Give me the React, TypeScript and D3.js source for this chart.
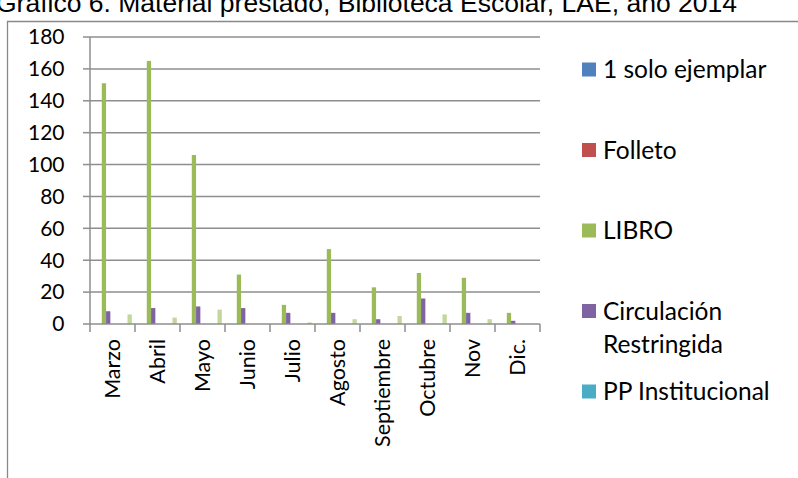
import React from "react";
import * as d3 from "d3";

const title = "Gráfico 6. Material prestado, Biblioteca Escolar, LAE, año 2014";
const months = ["Marzo", "Abril", "Mayo", "Junio", "Julio", "Agosto", "Septiembre", "Octubre", "Nov", "Dic."];
const seriesNames = ["1 solo ejemplar", "Folleto", "LIBRO", "Circulación Restringida", "PP Institucional", "s6", "s7", "s8", "s9"];
const seriesColors = ["#4F81BD", "#C0504D", "#9BBB59", "#8064A2", "#4BACC6", "#F79646", "#2C4D75", "#772C2A", "#C3D69B"];
const soloEjemplar = [0, 0, 0, 0, 0, 0, 0, 0, 0, 0];
const folleto = [0, 0, 0, 0, 0, 0, 0, 0, 0, 0];
const libro = [151, 165, 106, 31, 12, 47, 23, 32, 29, 7];
const circulacion = [8, 10, 11, 10, 7, 7, 3, 16, 7, 2];
const ppInstitucional = [0, 0, 0, 0, 0, 0, 0, 0, 0, 0];
const s6 = [0, 0, 0, 0, 0, 0, 0, 0, 0, 0];
const s7 = [0, 0, 0, 0, 0, 0, 0, 0, 0, 0];
const s8 = [0, 0, 0, 0, 0, 0, 0, 0, 0, 0];
const s9 = [6, 4, 9, 0, 1, 3, 5, 6, 3, 0];
const seriesData = [soloEjemplar, folleto, libro, circulacion, ppInstitucional, s6, s7, s8, s9];
const legendShown = [0, 1, 2, 3, 4];
const legendLines: Record<number, string[]> = { 3: ["Circulación", "Restringida"] };
const yTicks = [0, 20, 40, 60, 80, 100, 120, 140, 160, 180];

const W = 798, H = 478;
const L = 90, R = 540, T = 37, B = 324;
const FONT = "Lato, 'Open Sans', sans-serif";
const GRID = "#8E8E8E";

export default function App() {
  const x = d3.scaleBand<string>().domain(months).range([L, R]).padding(0);
  const bw = x.bandwidth();
  const n = seriesData.length;
  const barW = bw / (n + 1.5);
  const xs = d3.scaleBand<number>().domain(d3.range(n)).range([0.75 * barW, bw - 0.75 * barW]).padding(0);
  const y = d3.scaleLinear().domain([0, 180]).range([B, T]);

  return (
    <svg width={W} height={H} style={{ position: "absolute", left: 0, top: 0, background: "#fff" }}>
      <rect x={0} y={0} width={W} height={H} fill="#fff" />
      <text x={-4} y={11.5} fontFamily="'Liberation Sans', Arial, sans-serif" fontSize={26.5} fill="#000">{title}</text>
      {/* chart border */}
      <path d={`M7.5,${H + 2} V21.5 H${W + 2}`} fill="none" stroke="#898989" strokeWidth={1.3} />
      {/* gridlines */}
      {yTicks.filter((t) => t > 0).map((t) => (
        <line key={t} x1={L} x2={R} y1={y(t)} y2={y(t)} stroke={GRID} strokeWidth={1.5} />
      ))}
      {/* bars */}
      {seriesData.map((vals, si) =>
        vals.map((v, mi) =>
          v > 0 ? (
            <rect key={`${si}-${mi}`} x={(x(months[mi]) as number) + (xs(si) as number)} y={y(v)} width={xs.bandwidth()} height={B - y(v)} fill={seriesColors[si]} />
          ) : null
        )
      )}
      {/* axes */}
      <line x1={L} x2={L} y1={T} y2={B} stroke={GRID} strokeWidth={1.5} />
      <line x1={L} x2={R} y1={B} y2={B} stroke={GRID} strokeWidth={1.5} />
      {yTicks.map((t) => (
        <g key={t}>
          <line x1={L - 7} x2={L} y1={y(t)} y2={y(t)} stroke={GRID} strokeWidth={1.5} />
          <text x={64.5} y={y(t)} dy="0.35em" textAnchor="end" fontFamily={FONT} fontSize={21} fill="#000">{t}</text>
        </g>
      ))}
      {[...months.map((m) => x(m) as number), R].map((xx, i) => (
        <line key={i} x1={xx} x2={xx} y1={B} y2={B + 8} stroke={GRID} strokeWidth={1.5} />
      ))}
      {months.map((m) => {
        const cx = (x(m) as number) + bw / 2;
        return (
          <text key={m} transform={`translate(${cx},${B + 15}) rotate(-90)`} textAnchor="end" dy="0.35em" fontFamily={FONT} fontSize={21.5} fill="#000">{m}</text>
        );
      })}
      {/* legend */}
      {legendShown.map((si, i) => {
        const cy = 69.5 + i * 80.5;
        const lines = legendLines[si] || [seriesNames[si]];
        return (
          <g key={si}>
            <rect x={582} y={cy - 7} width={14} height={14} fill={seriesColors[si]} />
            {lines.map((ln, li) => (
              <text key={li} x={603} y={cy + li * 33} dy="0.35em" fontFamily={FONT} fontSize={24.5} fill="#000">{ln}</text>
            ))}
          </g>
        );
      })}
    </svg>
  );
}
